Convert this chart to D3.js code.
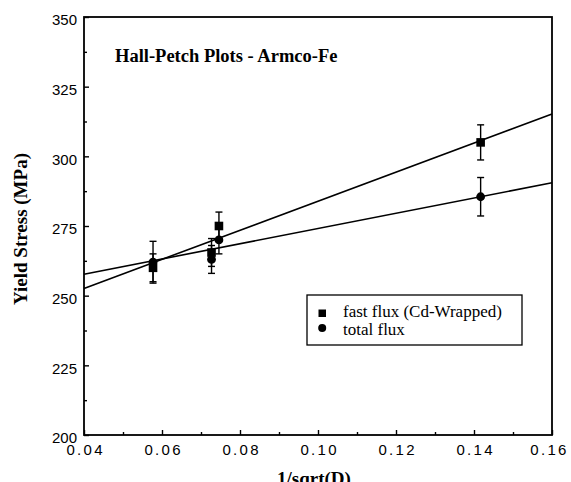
<!DOCTYPE html>
<html>
<head>
<meta charset="utf-8">
<script src="https://cdn.jsdelivr.net/npm/d3@7"></script>
<style>
  html, body { margin: 0; padding: 0; background: #fff; }
  svg { display: block; }
</style>
</head>
<body>
<svg id="chart" width="571" height="482"></svg>
<script>
// Hall-Petch data for Armco-Fe: yield stress vs 1/sqrt(grain size)
const invSqrtD   = [0.0577, 0.0727, 0.0746, 0.1417];
const fastFlux   = [260.0, 265.5, 275.0, 305.0];
const fastErr    = [5.0, 5.0, 5.0, 6.3];
const totalFlux  = [262.0, 263.0, 270.0, 285.5];
const totalErr   = [7.5, 5.0, 5.0, 6.9];

// Linear fits, evaluated at the two ends of the x range
const fitX        = [0.04, 0.16];
const fastFitY    = [252.6, 315.2];
const totalFitY   = [257.7, 290.5];

const xMajorTicks = [0.04, 0.06, 0.08, 0.10, 0.12, 0.14, 0.16];
const xMinorTicks = [0.05, 0.07, 0.09, 0.11, 0.13, 0.15];
const yMajorTicks = [200, 225, 250, 275, 300, 325, 350];
const yMinorTicks = [212.5, 237.5, 262.5, 287.5, 312.5, 337.5];

const legendLabels = ["fast flux (Cd-Wrapped)", "total flux"];

const svg = d3.select("#chart");
const plotL = 84, plotR = 552, plotT = 17, plotB = 435;

const x = d3.scaleLinear().domain([0.04, 0.16]).range([plotL, plotR]);
const y = d3.scaleLinear().domain([200, 350]).range([plotB, plotT]);

const sansFont = "'Liberation Sans', Arial, Helvetica, sans-serif";
const serifFont = "'Liberation Serif', 'Times New Roman', serif";

// Left axis: inward ticks
const yAxis = svg.append("g").attr("transform", `translate(${plotL},0)`)
  .call(d3.axisLeft(y).tickValues(yMajorTicks).tickSize(-5).tickPadding(7)
        .tickFormat(d3.format("d")));
yAxis.select(".domain").remove();
yAxis.selectAll(".tick line").attr("stroke", "#000").attr("stroke-width", 1.4);
yAxis.selectAll(".tick text")
  .attr("font-family", sansFont).attr("font-size", 15).attr("fill", "#000")
  .attr("dy", "0.52em");

const yMinor = svg.append("g").attr("transform", `translate(${plotL},0)`)
  .call(d3.axisLeft(y).tickValues(yMinorTicks).tickSize(-3).tickFormat(""));
yMinor.select(".domain").remove();
yMinor.selectAll(".tick line").attr("stroke", "#000").attr("stroke-width", 1.4);

// Bottom axis: inward ticks
const xAxis = svg.append("g").attr("transform", `translate(0,${plotB})`)
  .call(d3.axisBottom(x).tickValues(xMajorTicks).tickSize(-5).tickPadding(10)
        .tickFormat(d3.format(".2f")));
xAxis.select(".domain").remove();
xAxis.selectAll(".tick line").attr("stroke", "#000").attr("stroke-width", 1.4);
xAxis.selectAll(".tick text")
  .attr("font-family", sansFont).attr("font-size", 15).attr("fill", "#000")
  .attr("letter-spacing", "2.3px").attr("dx", (d, i, n) => i === n.length - 1 ? "-3px" : "1.1px")
  .attr("dy", "0.66em");

const xMinor = svg.append("g").attr("transform", `translate(0,${plotB})`)
  .call(d3.axisBottom(x).tickValues(xMinorTicks).tickSize(-3).tickFormat(""));
xMinor.select(".domain").remove();
xMinor.selectAll(".tick line").attr("stroke", "#000").attr("stroke-width", 1.4);

// Plot frame
svg.append("rect")
  .attr("x", plotL).attr("y", plotT)
  .attr("width", plotR - plotL).attr("height", plotB - plotT)
  .attr("fill", "none").attr("stroke", "#000").attr("stroke-width", 1.8);

// Fit lines
const line = d3.line().x(d => x(d[0])).y(d => y(d[1]));
[fastFitY, totalFitY].forEach(ys => {
  svg.append("path")
    .datum(fitX.map((v, i) => [v, ys[i]]))
    .attr("d", line)
    .attr("fill", "none").attr("stroke", "#000").attr("stroke-width", 1.6);
});

// Error bars and markers
function drawSeries(values, errs, shape) {
  const pts = invSqrtD.map((v, i) => ({ x: v, y: values[i], e: errs[i] }));
  const g = svg.append("g");
  const capHalf = 3.5;
  pts.forEach(p => {
    const y0 = y(p.y - p.e), y1 = y(p.y + p.e), cx = x(p.x);
    g.append("line").attr("x1", cx).attr("x2", cx).attr("y1", y0).attr("y2", y1)
      .attr("stroke", "#000").attr("stroke-width", 1.4);
    [y0, y1].forEach(cy => g.append("line")
      .attr("x1", cx - capHalf).attr("x2", cx + capHalf).attr("y1", cy).attr("y2", cy)
      .attr("stroke", "#000").attr("stroke-width", 1.4));
  });
  pts.forEach(p => {
    if (shape === "square") {
      g.append("rect").attr("x", x(p.x) - 4.3).attr("y", y(p.y) - 4.3)
        .attr("width", 8.6).attr("height", 8.6).attr("fill", "#000");
    } else {
      g.append("circle").attr("cx", x(p.x)).attr("cy", y(p.y)).attr("r", 4.4)
        .attr("fill", "#000");
    }
  });
}
drawSeries(totalFlux, totalErr, "circle");
drawSeries(fastFlux, fastErr, "square");

// Title
svg.append("text")
  .attr("x", 115).attr("y", 62)
  .attr("font-family", serifFont).attr("font-weight", "bold").attr("font-size", 18.5)
  .attr("fill", "#000")
  .text("Hall-Petch Plots - Armco-Fe");

// Axis titles
svg.append("text")
  .attr("x", (plotL + plotR) / 2 - 4).attr("y", 485)
  .attr("text-anchor", "middle")
  .attr("font-family", serifFont).attr("font-weight", "bold").attr("font-size", 19)
  .attr("fill", "#000")
  .text("1/sqrt(D)");

svg.append("text")
  .attr("transform", "translate(27,229) rotate(-90)")
  .attr("text-anchor", "middle")
  .attr("font-family", serifFont).attr("font-weight", "bold").attr("font-size", 19)
  .attr("fill", "#000")
  .text("Yield Stress (MPa)");

// Legend
const legend = svg.append("g");
legend.append("rect")
  .attr("x", 307).attr("y", 295).attr("width", 215).attr("height", 50)
  .attr("fill", "#fff").attr("stroke", "#000").attr("stroke-width", 1.3);
legend.append("rect").attr("x", 318.5).attr("y", 309.5).attr("width", 7.5).attr("height", 7.5)
  .attr("fill", "#000");
legend.append("circle").attr("cx", 322.2).attr("cy", 328).attr("r", 4).attr("fill", "#000");
legendLabels.forEach((t, i) => {
  legend.append("text")
    .attr("x", 343).attr("y", 317 + i * 17.5)
    .attr("font-family", serifFont).attr("font-size", 17).attr("fill", "#000")
    .text(t);
});
</script>
</body>
</html>
